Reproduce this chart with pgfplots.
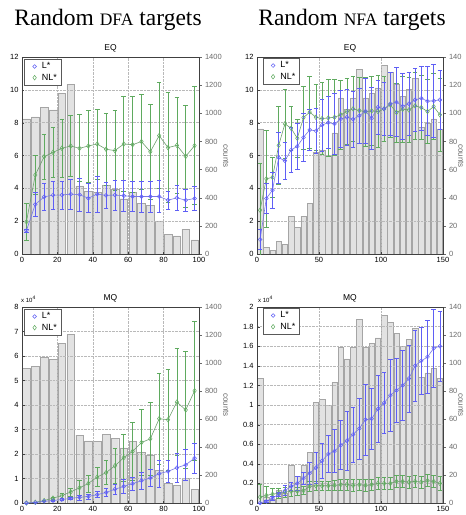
\documentclass[border=0pt]{standalone}
\usepackage{fontspec}
\setmainfont{Liberation Serif}
\setsansfont{Liberation Sans}
\usepackage{pgfplots}
\usepackage{pgfplotstable}
\pgfplotsset{compat=1.18}

\definecolor{lsblue}{RGB}{120,120,230}
\definecolor{ebblue}{RGB}{95,95,245}
\definecolor{lsgreen}{RGB}{110,160,110}
\definecolor{ebgreen}{RGB}{95,170,95}
\definecolor{barfill}{RGB}{226,226,226}
\definecolor{baredge}{RGB}{165,165,165}
\definecolor{axgray}{RGB}{105,105,105}

% x = bin centre, c = counts, l/le = L* mean/err, n/ne = NL* mean/err
\pgfplotstableread{
x     c     l     le    n     ne
2.5   960   1.43  0.10  1.96  1.12
7.5   975   3.02  0.74  4.81  1.19
12.5  1040  3.48  0.82  5.93  1.37
17.5  1025  3.59  0.84  6.19  1.50
22.5  1140  3.59  0.85  6.44  1.76
27.5  1205  3.65  0.90  6.58  1.87
32.5  485   3.61  0.98  6.44  2.04
37.5  443   3.40  0.88  6.58  2.20
42.5  440   3.65  1.08  6.70  2.14
47.5  490   3.57  0.80  6.38  2.20
52.5  460   3.59  0.93  6.30  2.44
57.5  393   3.55  0.96  6.70  2.90
62.5  440   3.50  0.92  6.66  2.93
67.5  362   3.50  0.94  6.85  2.90
72.5  344   3.50  0.94  6.23  2.91
77.5  235   3.50  0.98  7.21  3.23
82.5  142   3.28  0.53  6.48  3.36
87.5  128   3.42  0.78  6.62  2.95
92.5  176   3.28  0.68  5.95  3.08
97.5  100   3.38  0.72  6.60  3.60
}\dfaeq

\pgfplotstableread{
x     l     le    n     ne
2.5   0.00  0.00  0.00  0.00
7.5   0.02  0.01  0.03  0.01
12.5  0.07  0.02  0.10  0.03
17.5  0.10  0.03  0.20  0.05
22.5  0.14  0.04  0.30  0.10
27.5  0.19  0.05  0.45  0.16
32.5  0.23  0.10  0.62  0.30
37.5  0.27  0.10  0.80  0.35
42.5  0.34  0.12  1.06  0.38
47.5  0.43  0.15  1.24  0.49
52.5  0.56  0.20  1.52  0.70
57.5  0.68  0.29  1.85  0.96
62.5  0.79  0.26  2.11  1.20
67.5  0.91  0.34  2.47  1.34
72.5  1.02  0.34  2.62  1.50
77.5  1.20  0.54  3.44  1.87
82.5  1.29  0.45  3.40  2.05
87.5  1.44  0.58  4.12  2.18
92.5  1.56  0.63  3.80  2.40
97.5  1.83  0.60  4.58  2.83
}\dfamq

\pgfplotstableread{
x      c     l     le    n     ne
2.5    89    0.88  0.62  2.67  2.85
7.5    4.5   3.38  0.90  4.58  2.95
12.5   2.5   3.89  1.10  4.67  1.20
17.5   9     5.87  1.57  6.62  2.40
22.5   7     5.68  1.13  7.93  2.08
27.5   27    6.34  1.38  7.66  1.32
32.5   19    6.56  1.38  7.05  1.16
37.5   27    7.11  1.44  8.31  1.92
42.5   36    7.56  1.24  8.64  2.20
47.5   72    7.50  1.35  8.33  2.00
52.5   74    7.86  1.58  8.25  2.20
57.5   70    8.00  1.58  8.29  2.35
62.5   86    7.93  1.83  8.33  2.30
67.5   111   8.23  1.73  8.48  2.10
72.5   103   8.33  1.68  8.68  2.00
77.5   111   8.21  1.68  8.84  2.00
82.5   131   8.42  1.69  8.74  2.00
87.5   111   8.70  1.98  8.66  2.10
92.5   114   8.27  1.91  8.72  2.10
97.5   118   8.94  1.65  8.68  2.20
102.5  134   8.84  1.60  8.84  2.00
107.5  129   9.15  1.93  9.09  2.00
112.5  121   9.25  2.10  8.62  1.80
117.5  112   9.00  1.99  8.82  2.00
122.5  117   9.15  1.90  8.78  2.00
127.5  125   9.39  1.90  9.03  2.05
132.5  90    9.49  1.94  8.92  1.95
137.5  93    9.31  2.10  8.68  1.95
142.5  96    9.33  2.25  8.98  2.00
147.5  89    9.39  1.80  8.48  2.20
}\nfaeq

\pgfplotstableread{
x      l      le    n      ne
2.5    0.000  0.00  0.060  0.13
7.5    0.017  0.01  0.078  0.09
12.5   0.050  0.02  0.090  0.06
17.5   0.090  0.02  0.100  0.05
22.5   0.126  0.05  0.110  0.05
27.5   0.170  0.04  0.120  0.05
32.5   0.200  0.07  0.120  0.04
37.5   0.255  0.06  0.126  0.04
42.5   0.305  0.11  0.170  0.05
47.5   0.360  0.16  0.176  0.05
52.5   0.430  0.18  0.176  0.05
57.5   0.500  0.19  0.176  0.05
62.5   0.530  0.22  0.180  0.05
67.5   0.590  0.25  0.187  0.06
72.5   0.635  0.30  0.187  0.06
77.5   0.700  0.28  0.180  0.06
82.5   0.760  0.31  0.187  0.06
87.5   0.850  0.36  0.180  0.06
92.5   0.860  0.31  0.187  0.06
97.5   0.960  0.34  0.200  0.06
102.5  1.020  0.31  0.200  0.06
107.5  1.100  0.37  0.200  0.06
112.5  1.150  0.33  0.220  0.06
117.5  1.200  0.36  0.220  0.06
122.5  1.270  0.34  0.214  0.06
127.5  1.400  0.36  0.220  0.06
132.5  1.450  0.34  0.214  0.06
137.5  1.490  0.37  0.228  0.06
142.5  1.580  0.40  0.220  0.06
147.5  1.600  0.36  0.200  0.07
}\nfamq

\pgfplotsset{
  every axis/.append style={scale only axis,
    font=\sffamily\fontsize{7.5}{9}\selectfont,
    /pgf/number format/assume math mode=true,
    /pgf/number format/1000 sep={}, scaled ticks=false},
  hist/.style={axis x line=none, axis y line*=right, ymin=0,
    tick align=outside, major tick length=2.5pt,
    axis line style={axgray}, ytick style={axgray},
    y tick label style={axgray}},
  lin/.style={ytick pos=left, xtick pos=bottom, tick align=inside,
    major tick length=2.5pt, grid=major,
    major grid style={densely dotted, gray!55},
    axis line style={black!75}, tick style={black!75},
    title style={font=\sffamily\fontsize{8.5}{9}\selectfont, yshift=-5pt},
    reverse legend,
    legend style={font=\sffamily\fontsize{9}{10}\selectfont,
      draw=black!65, at={(0.012,0.99)}, anchor=north west,
      inner xsep=2pt, inner ysep=1.5pt, row sep=-0.5pt, cells={anchor=west}},
    legend image code/.code={\path (0pt,0pt) (13pt,0pt);
      \draw[#1] plot[only marks] coordinates {(8pt,0pt)};}},
  bars/.style={ybar, bar width=4.3, fill=barfill, draw=baredge, line width=0.4pt},
  lser/.style={color=lsblue, mark=o, mark size=1.9pt, line width=0.6pt,
    mark options={color=ebblue, line width=0.5pt},
    error bars/.cd, y dir=both, y explicit,
    error bar style={color=ebblue, line width=0.6pt},
    error mark options={rotate=90, color=ebblue, mark size=2.3pt, line width=0.6pt}},
  nser/.style={color=lsgreen, mark=diamond, mark size=2.3pt, line width=0.6pt,
    mark options={color=ebgreen, line width=0.5pt},
    error bars/.cd, y dir=both, y explicit,
    error bar style={color=ebgreen, line width=0.6pt},
    error mark options={rotate=90, color=ebgreen, mark size=2.3pt, line width=0.6pt}},
}

\begin{document}
\begin{tikzpicture}
\useasboundingbox (0,0) rectangle (466pt,-515pt);

\node[anchor=base, font=\fontsize{23.5}{26}\selectfont] at (108pt,-25pt)
  {Random {\fontsize{17.5}{20}\selectfont DFA} targets};
\node[anchor=base, font=\fontsize{23.5}{26}\selectfont] at (352pt,-25pt)
  {Random {\fontsize{17.5}{20}\selectfont NFA} targets};

% ---- top left: EQ, DFA
\begin{axis}[hist, at={(22pt,-254pt)}, anchor=south west, width=177pt, height=197pt,
  xmin=0, xmax=100, ymax=1400, ytick={0,200,...,1400}]
\addplot[bars] table[x=x, y=c] {\dfaeq};
\end{axis}
\begin{axis}[lin, at={(22pt,-254pt)}, anchor=south west, width=177pt, height=197pt,
  xmin=0, xmax=100, ymin=0, ymax=12, xtick={0,20,...,100}, ytick={0,2,...,12},
  title={EQ}]
\addplot[nser] table[x=x, y=n, y error=ne] {\dfaeq};
\addplot[lser] table[x=x, y=l, y error=le] {\dfaeq};
\legend{NL*, L*}
\end{axis}

% ---- top right: EQ, NFA
\begin{axis}[hist, at={(257pt,-254pt)}, anchor=south west, width=186pt, height=197pt,
  xmin=0, xmax=150, ymax=140, ytick={0,20,...,140}]
\addplot[bars] table[x=x, y=c] {\nfaeq};
\end{axis}
\begin{axis}[lin, at={(257pt,-254pt)}, anchor=south west, width=186pt, height=197pt,
  xmin=0, xmax=150, ymin=0, ymax=12, xtick={0,50,100,150}, ytick={0,2,...,12},
  title={EQ}, legend style={at={(0.03,0.995)}}]
\addplot[nser] table[x=x, y=n, y error=ne] {\nfaeq};
\addplot[lser] table[x=x, y=l, y error=le] {\nfaeq};
\legend{NL*, L*}
\end{axis}

% ---- bottom left: MQ, DFA
\begin{axis}[hist, at={(22pt,-503pt)}, anchor=south west, width=177pt, height=196pt,
  xmin=0, xmax=100, ymax=1400, ytick={0,200,...,1400}]
\addplot[bars] table[x=x, y=c] {\dfaeq};
\end{axis}
\begin{axis}[lin, at={(22pt,-503pt)}, anchor=south west, width=177pt, height=196pt,
  xmin=0, xmax=100, ymin=0, ymax=8, xtick={0,20,...,100}, ytick={0,1,...,8},
  title={MQ}]
\addplot[nser] table[x=x, y=n, y error=ne] {\dfamq};
\addplot[lser] table[x=x, y=l, y error=le] {\dfamq};
\legend{NL*, L*}
\end{axis}

% ---- bottom right: MQ, NFA
\begin{axis}[hist, at={(257pt,-503pt)}, anchor=south west, width=186pt, height=196pt,
  xmin=0, xmax=150, ymax=140, ytick={0,20,...,140}]
\addplot[bars] table[x=x, y=c] {\nfaeq};
\end{axis}
\begin{axis}[lin, at={(257pt,-503pt)}, anchor=south west, width=186pt, height=196pt,
  xmin=0, xmax=150, ymin=0, ymax=2, xtick={0,50,100,150}, ytick={0,0.2,...,2},
  yticklabels={0,0.2,0.4,0.6,0.8,1,1.2,1.4,1.6,1.8,2},
  title={MQ}, legend style={at={(0.03,0.995)}}]
\addplot[nser] table[x=x, y=n, y error=ne] {\nfamq};
\addplot[lser] table[x=x, y=l, y error=le] {\nfamq};
\legend{NL*, L*}
\end{axis}

% right-hand axis labels and exponent labels
\foreach \xx/\yy in {226/156, 461/156, 226/405, 461/405}
  \node[rotate=-90, text=axgray, font=\sffamily\fontsize{8}{9}\selectfont] at (\xx pt,-\yy pt) {counts};
\node[anchor=base west, inner sep=0pt, font=\sffamily\fontsize{6}{7}\selectfont] at (21pt,-302pt) {x 10\textsuperscript{4}};
\node[anchor=base west, inner sep=0pt, font=\sffamily\fontsize{6}{7}\selectfont] at (258pt,-302pt) {x 10\textsuperscript{4}};
\end{tikzpicture}
\end{document}
